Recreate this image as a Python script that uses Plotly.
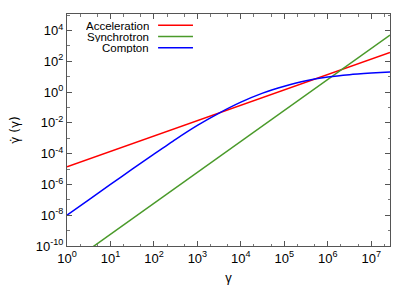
import plotly.graph_objects as go

# ---- data ----
gamma_line = [1.0, 2.7e7]
acceleration = [1.4e-5, 3.8e2]
synchrotron = [5.6e-12, 5.0e3]

gamma_compton = [1.0, 3.16, 10.0, 31.6, 1.0e2, 3.16e2, 1.0e3, 3.16e3, 1.0e4,
                 3.16e4, 1.0e5, 3.16e5, 1.0e6, 3.16e6, 1.0e7, 2.7e7]
compton = [1.0e-8, 1.0e-7, 1.0e-6, 9.8e-6, 9.3e-5, 8.5e-4, 6.8e-3, 4.3e-2,
           2.2e-1, 8.5e-1, 2.4, 5.5, 9.5, 13.5, 17.0, 20.0]

series_names = ["Acceleration", "Synchrotron", "Compton"]
series_colors = ["#ff0000", "#4a9a2a", "#0000ff"]

x_tickvals = [10 ** k for k in range(0, 8)]
x_ticktext = ["10<sup>%d</sup>" % k for k in range(0, 8)]
y_tickvals = [10 ** k for k in range(-10, 5, 2)]
y_ticktext = ["10<sup>%d</sup>" % k for k in range(-10, 5, 2)]

FONT = "Liberation Sans, Arial, Helvetica, sans-serif"

fig = go.Figure()
fig.add_trace(go.Scatter(x=gamma_line, y=acceleration, mode="lines",
                         line=dict(color=series_colors[0], width=1.5),
                         name=series_names[0], showlegend=False))
fig.add_trace(go.Scatter(x=gamma_line, y=synchrotron, mode="lines",
                         line=dict(color=series_colors[1], width=1.5),
                         name=series_names[1], showlegend=False))
fig.add_trace(go.Scatter(x=gamma_compton, y=compton, mode="lines",
                         line=dict(color=series_colors[2], width=1.5, shape="spline", smoothing=0.6),
                         name=series_names[2], showlegend=False))

# gnuplot-style key: text right-aligned, sample line to its right
key_rows = [0.952, 0.903, 0.855]
for name, color, yk in zip(series_names, series_colors, key_rows):
    fig.add_annotation(xref="paper", yref="paper", x=0.257, y=yk, text=name,
                       showarrow=False, xanchor="right", yanchor="middle",
                       height=11, valign="middle", borderpad=0,
                       font=dict(family=FONT, size=11.5, color="#000"))
    fig.add_shape(type="line", xref="paper", yref="paper",
                  x0=0.282, x1=0.39, y0=yk, y1=yk,
                  line=dict(color=color, width=1.5))

axis_common = dict(
    type="log", showgrid=False, zeroline=False, automargin=False,
    showline=True, linecolor="#555", linewidth=1, mirror="allticks",
    ticks="inside", ticklen=5, tickcolor="#555", tickwidth=1,
    minor=dict(ticks="inside", ticklen=2.5, tickcolor="#777", showgrid=False),
    tickfont=dict(family=FONT, size=13, color="#000"),
)

fig.update_xaxes(range=[0, 7.431], tickmode="array", tickvals=x_tickvals,
                 ticktext=x_ticktext,
                 title=dict(text="γ", font=dict(family=FONT, size=13, color="#000"), standoff=8),
                 **axis_common)
fig.update_yaxes(range=[-10, 5.07], tickmode="array", tickvals=y_tickvals,
                 ticktext=y_ticktext,
                 title=dict(text="γ\u0307 (γ)", font=dict(family="DejaVu Sans", size=12, color="#000"), standoff=13),
                 **axis_common)

fig.update_layout(
    width=415, height=291,
    margin=dict(l=67, r=25, t=14, b=45),
    paper_bgcolor="white", plot_bgcolor="white",
    showlegend=False,
)

fig.write_html("out.html", config={"displayModeBar": False},
               post_script="document.body.style.margin='0';document.body.style.overflow='hidden';")
